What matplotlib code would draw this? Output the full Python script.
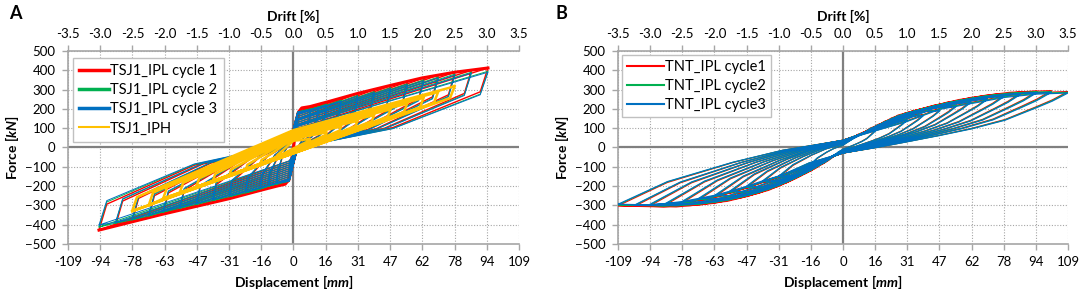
import numpy as np
import matplotlib.pyplot as plt
from matplotlib.lines import Line2D

plt.rcParams['font.family'] = ['Lato', 'DejaVu Sans']
plt.rcParams['mathtext.fontset'] = 'custom'
plt.rcParams['mathtext.it'] = 'Lato:italic:bold'
plt.rcParams['mathtext.rm'] = 'Lato:bold'

# ---------------------------------------------------------------- data
disp_labels = ['-109', '-94', '-78', '-63', '-47', '-31', '-16', '0',
               '16', '31', '47', '62', '78', '94', '109']
drift_labels = ['%.1f' % v for v in np.arange(-3.5, 3.51, 0.5)]
force_ticks = list(range(-500, 501, 100))

# panel A : TSJ1 in-plane (IPL) cycles, peak force per displacement amplitude
amp_a = [8, 12, 16, 23, 31, 39, 47, 55, 63, 70, 78, 86, 94]
a1_pos = [210, 220, 235, 255, 280, 300, 320, 340, 360, 375, 390, 400, 412]
a1_neg = [-200, -208, -222, -242, -265, -285, -305, -325, -345, -365, -385, -405, -428]
a2_pos = [200, 210, 225, 245, 270, 290, 310, 330, 350, 365, 380, 390, 395]
a2_neg = [-190, -200, -215, -235, -255, -275, -295, -315, -335, -355, -375, -392, -412]
a3_pos = [195, 205, 220, 240, 265, 285, 305, 325, 345, 360, 375, 385, 390]
a3_neg = [-185, -195, -210, -230, -250, -270, -290, -310, -330, -350, -370, -388, -402]
# force where loading jumps after slip near zero displacement
pinch_hi = [185, 180, 175, 170, 160, 150, 145, 140, 130, 120, 115, 110, 100]
pinch_lo = [-175, -170, -165, -160, -150, -140, -130, -120, -110, -100, -90, -80, -70]

# virgin loading curve of cycle 1
bb_pos_x = [0, 1, 2.5, 4, 8, 16, 31, 47, 62, 78, 94]
bb_pos_y = [0, 80, 185, 205, 212, 235, 280, 322, 360, 390, 412]
bb_neg_x = [0, -1, -2.5, -4, -8, -16, -31, -47, -63, -78, -94]
bb_neg_y = [0, -70, -170, -190, -200, -222, -265, -305, -345, -385, -428]

# TSJ1_IPH
amp_h = [8, 16, 23, 31, 39, 47, 55, 63, 70, 78]
h_pos = [45, 80, 110, 140, 170, 200, 230, 260, 290, 320]
h_neg = [-50, -85, -115, -145, -175, -205, -235, -265, -300, -330]
h_up0 = [35, 45, 55, 60, 65, 70, 75, 80, 85, 90]
h_lo0 = [-5, -10, -15, -20, -20, -25, -25, -30, -30, -30]

# panel B : TNT in-plane cycles
amp_b = [16, 31, 39, 47, 55, 62, 70, 78, 86, 94, 101, 109]
b1_pos = [95, 145, 170, 195, 220, 240, 255, 270, 282, 292, 295, 290]
b1_neg = [-95, -155, -180, -210, -235, -255, -272, -288, -298, -305, -305, -302]
b2_pos = [92, 142, 167, 192, 216, 236, 252, 266, 278, 288, 290, 286]
b2_neg = [-92, -150, -176, -205, -230, -250, -267, -283, -293, -300, -300, -297]
b3_pos = [90, 140, 165, 190, 213, 233, 249, 263, 275, 284, 286, 282]
b3_neg = [-90, -147, -173, -202, -227, -247, -264, -280, -290, -297, -298, -294]
# normalised loop shape read from the largest TNT loop
tnt_up_s = [-1, -0.78, -0.49, -0.27, 0, 0.28, 0.43, 0.72, 0.86, 1]
tnt_up_f = [-1, -0.6, -0.26, -0.05, 0.13, 0.47, 0.7, 0.92, 0.98, 1]
tnt_dn_s = [1, 0.93, 0.86, 0.72, 0.57, 0.43, 0.28, 0.15, 0, -0.15, -0.28, -0.43, -0.58, -0.72, -0.86, -1]
tnt_dn_f = [1, 0.85, 0.73, 0.5, 0.34, 0.22, 0.1, 0.0, -0.1, -0.27, -0.5, -0.7, -0.87, -0.97, -1.01, -1]

RED, GREEN, BLUE, GOLD = '#FF0000', '#00B050', '#0070C0', '#FFC000'
XP = 2.0


def tsj_loops(amps, fpos, fneg, phi, plo, c_up=20, c_dn=0):
    xs, ys = [], []
    for A, fp, fn, ph, pl in zip(amps, fpos, fneg, phi, plo):
        xs += [-A, -0.96 * A, -(A + XP) / 2, -XP, XP, A,
               0.96 * A, (A + XP) / 2, XP, -XP, -A]
        ys += [fn, fn + 0.3 * (c_up - fn), fn + 0.75 * (c_up - fn), c_up, ph, fp,
               fp - 0.3 * (fp - c_dn), fp - 0.75 * (fp - c_dn), c_dn, pl, fn]
    return xs, ys


def iph_loops(amps, fpos, fneg, up0, lo0):
    xs, ys = [], []
    for A, fp, fn, u, l in zip(amps, fpos, fneg, up0, lo0):
        xs += [-A, -0.97 * A, 0, 0.97 * A, A, 0.97 * A, 0, -0.97 * A, -A]
        ys += [fn, fn * 0.78, u, fp * 0.97, fp, fp * 0.8, l, fn * 0.97, fn]
    return xs, ys


def tnt_loops(amps, fpos, fneg):
    xs, ys = [], []
    for A, fp, fn in zip(amps, fpos, fneg):
        for s_list, f_list in ((tnt_up_s, tnt_up_f), (tnt_dn_s, tnt_dn_f)):
            for s, f in zip(s_list, f_list):
                xs.append(s * A)
                ys.append(f * (fp if s >= 0 else -fn))
    return xs, ys


fig = plt.figure(figsize=(10.84, 3.01), dpi=100)
ax_a = fig.add_axes([0.0627, 0.1894, 0.4161, 0.6412])
ax_b = fig.add_axes([0.5701, 0.1894, 0.4151, 0.6412])
xpos = np.linspace(-109, 109, 15)


def style(ax):
    ax.set_xlim(-109, 109)
    ax.set_ylim(-500, 500)
    ax.set_xticks(xpos)
    ax.set_xticklabels(disp_labels)
    ax.set_yticks(force_ticks)
    ax.set_axisbelow(True)
    ax.grid(True, color='#a6a6a6', ls=(0, (1, 1.5)), lw=0.8)
    for s in ['top', 'right']:
        ax.spines[s].set_visible(False)
    for s in ['left', 'bottom']:
        ax.spines[s].set_color('#a6a6a6')
        ax.spines[s].set_linewidth(1.2)
    ax.tick_params(colors='#a6a6a6', labelcolor='black', labelsize=9.5,
                   length=4, width=1, pad=5)
    ax.axhline(0, color='#808080', lw=1.6, zorder=1)
    ax.axvline(0, color='#808080', lw=1.6, zorder=1)
    ax.set_xlabel('Displacement [$\\mathit{mm}$]', fontweight='bold',
                  fontsize=10, labelpad=3)
    ax.set_ylabel('Force [$\\mathit{kN}$]', fontweight='bold',
                  fontsize=10, labelpad=3)
    top = ax.twiny()
    top.set_xlim(-109, 109)
    top.set_xticks(xpos)
    top.set_xticklabels(drift_labels)
    for s in ['left', 'right', 'bottom']:
        top.spines[s].set_visible(False)
    top.spines['top'].set_color('#a6a6a6')
    top.spines['top'].set_linewidth(1.2)
    top.tick_params(colors='#a6a6a6', labelcolor='black', labelsize=9.5,
                    length=4, width=1, pad=4)
    top.set_xlabel('Drift [%]', fontweight='bold', fontsize=10, labelpad=5)


style(ax_a)
style(ax_b)

# panel A
for pos, neg, col, lw in ((a1_pos, a1_neg, RED, 1.0),
                          (a2_pos, a2_neg, GREEN, 0.7),
                          (a3_pos, a3_neg, BLUE, 0.7)):
    x, y = tsj_loops(amp_a, pos, neg, pinch_hi, pinch_lo)
    ax_a.plot(x, y, color=col, lw=lw, zorder=3)
    if col == RED:
        ax_a.plot(bb_pos_x, bb_pos_y, color=RED, lw=2.2, zorder=2)
        ax_a.plot(bb_neg_x, bb_neg_y, color=RED, lw=2.2, zorder=2)
x, y = iph_loops(amp_h, h_pos, h_neg, h_up0, h_lo0)
ax_a.plot(x, y, color=GOLD, lw=1.8, zorder=4)

handles_a = [Line2D([], [], color=RED, lw=2.5), Line2D([], [], color=GREEN, lw=2.5),
             Line2D([], [], color=BLUE, lw=2.5), Line2D([], [], color=GOLD, lw=1.5)]
leg = ax_a.legend(handles_a, ['TSJ1_IPL cycle 1', 'TSJ1_IPL cycle 2',
                              'TSJ1_IPL cycle 3', 'TSJ1_IPH'],
                  loc='upper left', bbox_to_anchor=(0.011, 0.966), fontsize=10.5,
                  fancybox=False, edgecolor='#c0c0c0', framealpha=1,
                  handlelength=2.0, handletextpad=0.1, labelspacing=0.35,
                  borderpad=0.45, borderaxespad=0)
leg.set_zorder(10)

# panel B
for pos, neg, col in ((b1_pos, b1_neg, RED), (b2_pos, b2_neg, GREEN),
                      (b3_pos, b3_neg, BLUE)):
    x, y = tnt_loops(amp_b, pos, neg)
    ax_b.plot(x, y, color=col, lw=0.8, zorder=3)

handles_b = [Line2D([], [], color=c, lw=1.5) for c in (RED, GREEN, BLUE)]
leg = ax_b.legend(handles_b, ['TNT_IPL cycle1', 'TNT_IPL cycle2', 'TNT_IPL cycle3'],
                  loc='upper left', bbox_to_anchor=(0.009, 0.98), fontsize=10.5,
                  fancybox=False, edgecolor='#c0c0c0', framealpha=1,
                  handlelength=2.5, handletextpad=0.1, labelspacing=0.35,
                  borderpad=0.35, borderaxespad=0)
leg.set_zorder(10)

fig.text(0.008, 0.955, 'A', fontsize=13, fontweight='bold', va='center')
fig.text(0.512, 0.955, 'B', fontsize=13, fontweight='bold', va='center')

fig.savefig('out.png', dpi=100)
